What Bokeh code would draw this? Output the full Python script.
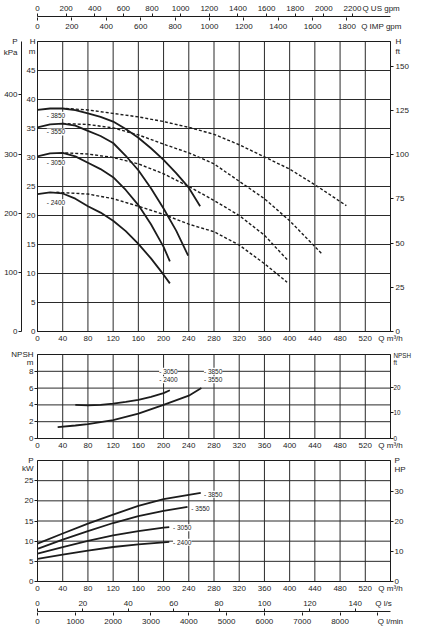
from bokeh.plotting import figure
from bokeh.models import Range1d, LinearAxis, FixedTicker, Label
from bokeh.layouts import column
from bokeh.embed import file_html
from bokeh.resources import INLINE

# ---------------- data ----------------
speeds = ["3850", "3550", "3050", "2400"]

q_ticks = [0, 40, 80, 120, 160, 200, 240, 280, 320, 360, 400, 440, 480, 520]
h_ticks = [0, 5, 10, 15, 20, 25, 30, 35, 40, 45]
kpa_ticks = [0, 100, 200, 300, 400]
hft_ticks = [0, 25, 50, 75, 100, 125, 150]
npsh_ticks = [0, 2, 4, 6, 8]
npsh_ft_ticks = [0, 10, 20]
kw_ticks = [0, 5, 10, 15, 20, 25]
hp_ticks = [0, 10, 20, 30]
usgpm_ticks = [0, 200, 400, 600, 800, 1000, 1200, 1400, 1600, 1800, 2000, 2200]
impgpm_ticks = [0, 200, 400, 600, 800, 1000, 1200, 1400, 1600, 1800]
ls_ticks = [0, 20, 40, 60, 80, 100, 120, 140]
lmin_ticks = [0, 1000, 2000, 3000, 4000, 5000, 6000, 7000, 8000]
lmin_minor = [0, 1000, 2000, 3000, 4000, 5000, 6000, 7000, 8000, 9000]

# head curves, solid (Q m3/h, H m)
q_h_3850 = [0, 20, 40, 60, 80, 100, 120, 140, 160, 180, 200, 220, 240, 258]
h_3850 = [38.2, 38.45, 38.45, 38.15, 37.6, 37.0, 36.2, 34.9, 33.4, 31.6, 29.6, 27.3, 24.8, 21.6]
q_h_3550 = [0, 20, 40, 60, 80, 100, 120, 140, 160, 180, 200, 220, 239]
h_3550 = [35.2, 35.7, 35.85, 35.5, 34.6, 33.7, 32.5, 30.3, 27.8, 24.7, 21.2, 17.4, 13.1]
q_h_3050 = [0, 20, 40, 60, 80, 100, 120, 140, 160, 180, 200, 210]
h_3050 = [30.2, 30.7, 30.8, 30.2, 29.1, 28.0, 26.6, 24.4, 21.8, 18.5, 14.6, 12.1]
q_h_2400 = [0, 20, 40, 60, 80, 100, 120, 140, 160, 180, 200, 210]
h_2400 = [23.7, 24.0, 23.8, 22.9, 21.6, 20.5, 19.1, 17.3, 15.1, 12.6, 9.8, 8.3]

# head curves, dashed
q_d_3850 = [45, 80, 120, 160, 200, 240, 280, 320, 360, 400, 440, 490]
d_3850 = [38.45, 38.2, 37.6, 37.0, 36.2, 35.2, 34.0, 32.2, 30.1, 28.0, 25.3, 21.7]
q_d_3550 = [40, 80, 120, 160, 200, 240, 280, 320, 360, 400, 452]
d_3550 = [35.85, 35.7, 35.1, 33.9, 32.3, 30.8, 28.9, 25.9, 22.9, 19.1, 13.3]
q_d_3050 = [44, 80, 120, 160, 200, 240, 280, 320, 360, 396]
d_3050 = [30.8, 30.6, 30.0, 28.9, 27.2, 25.0, 22.6, 20.0, 16.6, 12.4]
q_d_2400 = [30, 80, 120, 160, 200, 240, 280, 320, 360, 396]
d_2400 = [24.0, 23.7, 22.9, 21.6, 20.2, 18.5, 17.2, 14.9, 11.7, 8.5]

# NPSH curves
q_npsh_low = [60, 80, 100, 120, 140, 160, 180, 200, 210]          # 3050 / 2400
npsh_low = [4.0, 3.95, 4.0, 4.15, 4.35, 4.6, 4.95, 5.4, 5.75]
q_npsh_high = [32, 60, 80, 120, 160, 200, 240, 260]                # 3850 / 3550
npsh_high = [1.35, 1.55, 1.7, 2.2, 2.95, 4.0, 5.1, 6.0]

# power curves (kW)
q_p_3850 = [0, 40, 80, 120, 160, 200, 240, 259]
p_3850 = [9.4, 11.9, 14.35, 16.6, 18.75, 20.4, 21.5, 22.0]
q_p_3550 = [0, 40, 80, 120, 160, 200, 238]
p_3550 = [8.1, 10.4, 12.5, 14.5, 16.2, 17.5, 18.5]
q_p_3050 = [0, 40, 80, 120, 160, 200, 209]
p_3050 = [6.9, 8.55, 10.05, 11.45, 12.5, 13.35, 13.5]
q_p_2400 = [0, 40, 80, 120, 160, 200, 209]
p_2400 = [5.6, 6.65, 7.65, 8.55, 9.2, 9.7, 9.85]

# curve-label anchors (data units)
head_lab_q = [14.7, 14.7, 14.7, 14.7]
head_lab_h = [37.3, 34.4, 29.1, 22.2]
npsh_lab_q = [264, 264, 193, 193]
npsh_lab_v = [8.0, 7.0, 8.0, 7.0]
pow_lab_q = [264, 244, 215, 215]
pow_lab_v = [21.65, 18.2, 13.3, 9.75]

# unit conversions
Q_MAX = 560
H_MAX = 50
NPSH_MAX = 10
KW_MAX = 30
M_TO_KPA = 9.80665
M_TO_FT = 1 / 0.3048
KW_TO_HP = 1 / 0.7457
M3H_TO_USGPM = 4.40287
M3H_TO_IMPGPM = 3.66615
M3H_TO_LS = 1 / 3.6
M3H_TO_LMIN = 1000 / 60

# ---------------- styling helpers ----------------
FONT = "Liberation Sans"
INK = "#1c1c1c"
GRID = "#2a2a2a"
FRAME_W = 353
LEFT = 32
RIGHT = 28
TICK_SIZE = "8px"
NB = "\u00a0"


def fmt(v):
    return str(int(v)) if float(v).is_integer() else str(v)


def set_axis(ax, ticks, extra=None, minor=None, standoff=2, line=True, pad=None, size=TICK_SIZE):
    """ticks: labelled values; extra: {value: title text} without tick marks;
    minor: positions that get small outward tick marks."""
    extra = extra or {}
    major = list(ticks) + list(extra.keys())
    ax.ticker = FixedTicker(ticks=major, minor_ticks=list(minor) if minor else [])
    labels = {t: fmt(t) for t in ticks}
    if pad:
        labels[pad[0]] = pad[1] + labels[pad[0]]
    labels.update(extra)
    ax.major_label_overrides = labels
    ax.major_tick_out = 0
    ax.major_tick_in = 0
    ax.minor_tick_out = 3 if minor else 0
    ax.minor_tick_in = 0
    ax.minor_tick_line_color = INK if minor else None
    ax.major_tick_line_color = None
    ax.major_label_standoff = standoff
    ax.major_label_text_font = FONT
    ax.major_label_text_font_size = size
    ax.major_label_text_color = INK
    ax.axis_line_color = INK if line else None


def panel(frame_h, ymax, ygrid, top, bottom):
    p = figure(frame_width=FRAME_W, frame_height=frame_h,
               x_range=Range1d(0, Q_MAX), y_range=Range1d(0, ymax),
               min_border_left=LEFT, min_border_right=RIGHT,
               min_border_top=top, min_border_bottom=bottom,
               output_backend="svg", toolbar_location=None,
               outline_line_color=INK, outline_line_width=1,
               background_fill_color="white", border_fill_color="white")
    p.grid.visible = False
    set_axis(p.xaxis[0], q_ticks, extra={Q_MAX: "Q m\u00b3/h"}, standoff=2)
    gx = q_ticks[1:]
    p.segment(x0=gx, y0=0, x1=gx, y1=ymax, line_color=GRID, line_width=1)
    p.segment(x0=0, y0=ygrid, x1=Q_MAX, y1=ygrid, line_color=GRID, line_width=1)
    return p


def curve_label(p, x, y, s):
    p.add_layout(Label(x=x, y=y, text="- " + s, text_font=FONT, text_font_size="6.5px",
                       text_align="left", text_baseline="middle", text_color=INK,
                       background_fill_color="white"))


def scale_strip(top, bottom):
    s = figure(frame_width=FRAME_W, frame_height=1,
               x_range=Range1d(0, Q_MAX), y_range=Range1d(0, 1),
               x_axis_location=None, y_axis_location=None,
               min_border_left=LEFT, min_border_right=RIGHT,
               min_border_top=top, min_border_bottom=bottom,
               output_backend="svg", toolbar_location=None,
               outline_line_color=None, border_fill_color="white",
               background_fill_color="white")
    s.grid.visible = False
    return s


# ---------------- top scale: US gpm / IMP gpm ----------------
top = scale_strip(10, 12)
top.extra_x_ranges = {"us": Range1d(0, Q_MAX * M3H_TO_USGPM),
                      "imp": Range1d(0, Q_MAX * M3H_TO_IMPGPM)}
us_ax = LinearAxis(x_range_name="us")
set_axis(us_ax, usgpm_ticks, extra={2400: "Q US gpm"}, minor=usgpm_ticks, standoff=1)
top.add_layout(us_ax, "above")
imp_ax = LinearAxis(x_range_name="imp")
set_axis(imp_ax, impgpm_ticks, extra={2000: "Q IMP gpm"}, minor=impgpm_ticks, standoff=1, line=False)
top.add_layout(imp_ax, "below")

# ---------------- head panel ----------------
ph = panel(290, H_MAX, h_ticks[1:], 8, 12)
ph.extra_y_ranges = {"kpa": Range1d(0, H_MAX * M_TO_KPA), "ft": Range1d(0, H_MAX * M_TO_FT)}
set_axis(ph.yaxis[0], h_ticks, extra={49.99: "H", 48.2: "m"}, standoff=2, pad=(45, NB))
kpa_ax = LinearAxis(y_range_name="kpa")
set_axis(kpa_ax, kpa_ticks, extra={490.2: "P", 471.7: "kPa"}, minor=kpa_ticks, standoff=1)
ph.add_layout(kpa_ax, "left")
ft_ax = LinearAxis(y_range_name="ft")
set_axis(ft_ax, hft_ticks, extra={164.0: "H", 158.5: "ft"}, minor=hft_ticks, standoff=2)
ph.add_layout(ft_ax, "right")

for q, h in [(q_d_3850, d_3850), (q_d_3550, d_3550), (q_d_3050, d_3050), (q_d_2400, d_2400)]:
    ph.line(q, h, line_color=INK, line_width=1.4, line_dash="3 2")
for q, h in [(q_h_3850, h_3850), (q_h_3550, h_3550), (q_h_3050, h_3050), (q_h_2400, h_2400)]:
    ph.line(q, h, line_color=INK, line_width=1.8)
for s, x, y in zip(speeds, head_lab_q, head_lab_h):
    curve_label(ph, x, y, s)

# ---------------- NPSH panel ----------------
pn = panel(84, NPSH_MAX, npsh_ticks[1:], 9, 12)
pn.extra_y_ranges = {"ft": Range1d(0, NPSH_MAX * M_TO_FT)}
set_axis(pn.yaxis[0], npsh_ticks, extra={9.999: "NPSH", 9.05: "m"}, minor=npsh_ticks, standoff=1)
nft_ax = LinearAxis(y_range_name="ft")
set_axis(nft_ax, npsh_ft_ticks, extra={32.5: "NPSH", 29.5: "ft"}, minor=npsh_ft_ticks,
         standoff=0, size="6.3px")
pn.add_layout(nft_ax, "right")
pn.line(q_npsh_low, npsh_low, line_color=INK, line_width=1.8)
pn.line(q_npsh_high, npsh_high, line_color=INK, line_width=1.8)
for s, x, y in zip(speeds, npsh_lab_q, npsh_lab_v):
    curve_label(pn, x, y, s)

# ---------------- power panel ----------------
pp = panel(121, KW_MAX, kw_ticks[1:], 8, 12)
pp.extra_y_ranges = {"hp": Range1d(0, KW_MAX * KW_TO_HP)}
set_axis(pp.yaxis[0], kw_ticks, extra={29.99: "P", 27.9: "kW"}, minor=kw_ticks, standoff=1)
hp_ax = LinearAxis(y_range_name="hp")
set_axis(hp_ax, hp_ticks, extra={40.2: "P", 37.4: "HP"}, minor=hp_ticks, standoff=1)
pp.add_layout(hp_ax, "right")
for q, v in [(q_p_3850, p_3850), (q_p_3550, p_3550), (q_p_3050, p_3050), (q_p_2400, p_2400)]:
    pp.line(q, v, line_color=INK, line_width=1.8)
for s, x, y in zip(speeds, pow_lab_q, pow_lab_v):
    curve_label(pp, x, y, s)

# ---------------- bottom scale: l/s / l/min ----------------
bot = scale_strip(13, 12)
bot.extra_x_ranges = {"ls": Range1d(0, Q_MAX * M3H_TO_LS),
                      "lmin": Range1d(0, Q_MAX * M3H_TO_LMIN)}
ls_ax = LinearAxis(x_range_name="ls")
set_axis(ls_ax, ls_ticks, extra={152.5: "Q l/s"}, minor=ls_ticks, standoff=1)
bot.add_layout(ls_ax, "above")
lmin_ax = LinearAxis(x_range_name="lmin")
set_axis(lmin_ax, lmin_ticks, extra={9330: "Q l/min"}, minor=lmin_minor, standoff=1, line=False)
bot.add_layout(lmin_ax, "below")

layout = column(top, ph, pn, pp, bot, spacing=0)
open("out.html", "w").write(file_html(layout, INLINE))
